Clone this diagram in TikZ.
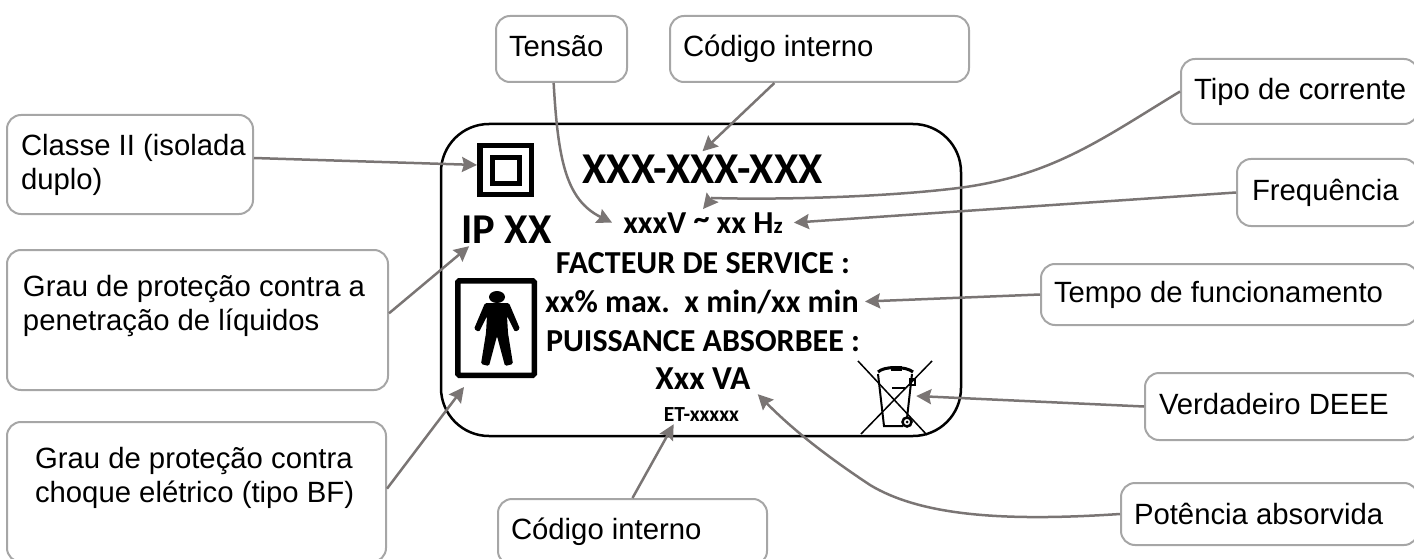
\documentclass[tikz,border=0pt]{standalone}
\usepackage{fontspec}
\setmainfont{Liberation Sans}
\newfontfamily\platefont{Carlito}
\usetikzlibrary{arrows.meta}
\definecolor{boxgray}{HTML}{A6A6A6}
\definecolor{pointer}{HTML}{7A7574}
\newcommand\fs[1]{\fontsize{#1}{34pt}\selectfont}
\tikzset{
  callout/.style={draw=boxgray, line width=2pt, rounded corners=14pt, anchor=north west, align=flush left, inner ysep=0pt, inner xsep=13pt, font=\fs{29.3}},
  plate text/.style={font=\platefont\bfseries\fs{#1}, anchor=base, inner sep=3pt},
  frame/.style={draw, line width=5.5pt},
  pointed/.style={draw=pointer, line width=2.5pt, -{Stealth[length=15pt, width=15pt, inset=2pt]}}
}
\begin{document}
\begin{tikzpicture}[x=1pt, y=-1pt]
\useasboundingbox (0,0) rectangle (1414,559);
\node [draw, line width=2.5pt, rounded corners=48pt, minimum width=520pt, minimum height=312pt] (plate) at (701,280) {};
\node [plate text=44] (partno) at (702.5,183) {XXX-XXX-XXX};
\node [plate text=32] (volt) at (703,233) {xxxV \raisebox{4pt}{\textasciitilde} xx H{\fs{23}z}};
\node [plate text=42.5] (ipcode) at (506.5,243) {IP XX};
\node [plate text=32] (service) at (703,273) {FACTEUR DE SERVICE :};
\node [plate text=32] (duty) at (702,312) {xx\% max.\ \ x min/xx min};
\node [plate text=32] (absorbed) at (703,351) {PUISSANCE ABSORBEE :};
\node [plate text=33.5] (power) at (703,389) {Xxx VA};
\node [plate text=21.5] (etref) at (701.5,421) {ET-xxxxx};
\node [frame, minimum width=51.5pt, minimum height=48.5pt] (dblsq) at (505.5,170) {};
\node [draw, line width=5pt, minimum width=27pt, minimum height=26pt] (dblsqin) at (505.5,170.5) {};
\node [frame, rounded corners=1.5pt, minimum width=76.5pt, minimum height=94.5pt] (bfbox) at (496,328) {};
\fill [rounded corners=1.5pt] (485,303) -- (509,303) -- (520,329) -- (515,332) -- (507,316) -- (508,333) -- (513,364) -- (505,366) -- (497,336) -- (489,366) -- (481,364) -- (486,333) -- (487,316) -- (479,332) -- (474,329) -- cycle;
\fill (497,297) ellipse [x radius=8, y radius=6];
\node [minimum width=42pt, minimum height=60pt, inner sep=0pt] (weee) at (895,396) {};
\draw [line width=1.5pt] (858,361) -- (927,435);
\draw [line width=1.5pt] (932,361) -- (861,434);
\draw [line width=2pt] (878,374) -- (884,426) -- (903,426);
\draw [line width=2pt] (912,374) -- (907,418);
\draw [line width=3pt] (878,372) .. controls (884,366) and (906,366) .. (913,372);
\draw [line width=1.2pt] (892,367) rectangle (901,370);
\draw [line width=2pt] (892,388) -- (905,388);
\draw [line width=1.2pt] (910,379) rectangle (915,385);
\draw [line width=2.5pt] (907,422) circle (4.5);
\fill (907,422) circle (1.5);
\node [callout, inner xsep=14pt, text width=218pt, minimum height=99pt] (classe) at (6,114) {\mbox{Classe II (isolada}\\duplo)};
\node [callout, inner xsep=16pt, text width=349pt, minimum height=140pt] (ingress) at (6,249) {Grau de proteção contra a\\penetração de líquidos\\ \mbox{}\\[4pt]};
\node [callout, inner xsep=28pt, text width=323pt, minimum height=140pt] (shock) at (6,421) {Grau de proteção contra\\choque elétrico (tipo BF)\\ \mbox{}};
\node [callout, text width=105pt, minimum height=66pt] (tensao) at (495,15) {Tensão\vphantom{g}};
\node [callout, text width=273pt, minimum height=66pt] (codetop) at (669,15) {Código interno};
\node [callout, text width=211pt, minimum height=65pt] (tipo) at (1180,58) {\mbox{Tipo de corrente}};
\node [callout, inner xsep=15pt, text width=151pt, minimum height=67pt] (freq) at (1236,158) {Frequência};
\node [callout, text width=351pt, minimum height=61pt] (tempo) at (1040,263) {Tempo de funcionamento};
\node [callout, inner xsep=14pt, text width=246pt, minimum height=67pt] (verdadeiro) at (1144,372) {Verdadeiro DEEE\vphantom{g}};
\node [callout, text width=271pt, minimum height=62pt] (potencia) at (1120,482) {Potência absorvida};
\node [callout, text width=243pt, minimum height=66pt] (codebot) at (497,498) {Código interno};
\draw [pointed] (classe.3.5) -- (dblsq.170);
\draw [pointed] (ingress.2) -- ([xshift=11pt]ipcode.south west);
\draw [pointed] (shock.1.5) -- ([shift={(9,9)}]bfbox.south west);
\draw [pointed] (tensao.257) .. controls (558,160) and (566,200) .. ([xshift=-8pt]volt.west);
\draw [pointed] (codetop.217.8) -- (partno.north);
\draw [pointed] (tipo.west) .. controls (1100,140) and (1050,178) .. (950,189) .. controls (880,197) and (780,200) .. (712,198) -- (volt.north);
\draw [pointed] (freq.west) -- ([xshift=8pt]volt.east);
\draw [pointed] (tempo.west) -- ([xshift=3pt]duty.east);
\draw [pointed] (verdadeiro.west) -- (weee.east);
\draw [pointed] (potencia.west) .. controls (1000,522) and (920,515) .. (870,485) .. controls (840,465) and (800,437) .. ([shift={(4,2)}]power.south east);
\draw [pointed] (codebot.north) -- ([xshift=13pt]etref.south west);
\end{tikzpicture}
\end{document}
